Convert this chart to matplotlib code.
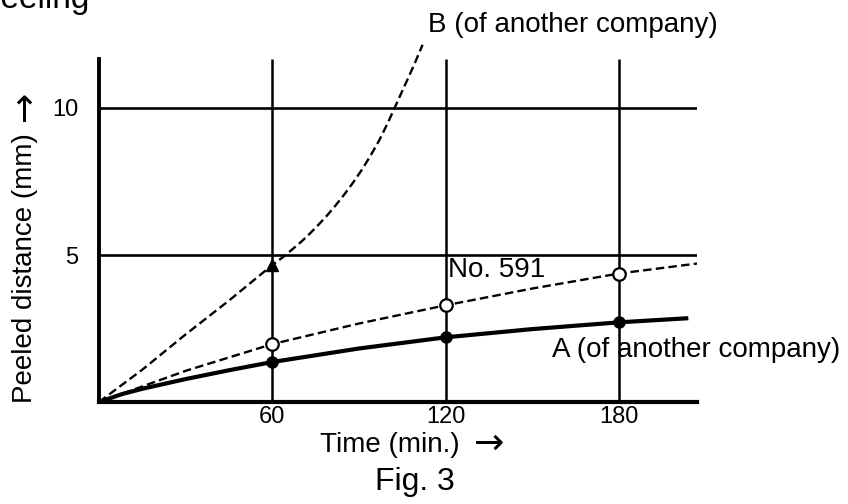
import matplotlib
matplotlib.use('Agg')
import matplotlib.pyplot as plt

plt.rcParams['font.family'] = ['Liberation Sans', 'DejaVu Sans']

# time (min.) and peeled distance (mm)
a_time = [0, 8, 15, 30, 45, 60, 90, 120, 150, 180, 204]
a_dist = [0, 0.27, 0.45, 0.78, 1.08, 1.36, 1.82, 2.2, 2.48, 2.71, 2.85]

no591_time = [0, 30, 60, 90, 120, 150, 180, 207]
no591_dist = [0, 1.06, 1.97, 2.67, 3.29, 3.86, 4.37, 4.71]

b_time = [0, 15, 30, 45, 60, 64, 67, 70, 73, 76, 79, 82, 85, 88, 91, 94, 97, 100, 103, 106, 109, 112]
b_dist = [0, 1.1, 2.3, 3.45, 4.66, 4.95, 5.2, 5.45, 5.73, 6.03, 6.35, 6.7, 7.07, 7.47, 7.9, 8.38, 8.9, 9.5, 10.15, 10.8, 11.45, 12.15]

# measured points (markers)
a_mark_t = [60, 120, 180]
a_mark_d = [1.36, 2.2, 2.71]
no591_mark_t = [60, 120, 180]
no591_mark_d = [1.97, 3.29, 4.37]
b_mark_t = [60]
b_mark_d = [4.66]

x_ticks = [60, 120, 180]
y_ticks = [5, 10]

W, H = 848, 504
fig = plt.figure(figsize=(W / 100, H / 100), dpi=100)
ax = fig.add_axes([99 / W, (H - 402) / H, 598 / W, 367.5 / H])
ax.set_xlim(0, 207)
ax.set_ylim(0, 12.5)

# grid: vertical lines up to the top of the y axis, horizontal lines full width
ax.vlines(x_ticks, 0, 11.65, colors='black', lw=1.8, zorder=1)
ax.hlines(y_ticks, 0, 207, colors='black', lw=1.9, zorder=1)

ax.plot(a_time, a_dist, color='black', lw=3.0, zorder=3, solid_capstyle='butt')
ax.plot(a_mark_t, a_mark_d, 'o', color='black', ms=8, zorder=4)

ax.plot(no591_time, no591_dist, color='black', lw=1.7, dashes=(3.6, 1.8), zorder=3)
ax.plot(no591_mark_t, no591_mark_d, 'o', mfc='white', mec='black', mew=1.6, ms=9, zorder=4)

ax.plot(b_time, b_dist, color='black', lw=1.7, dashes=(3.6, 1.8), zorder=3, clip_on=False)
ax.plot(b_mark_t, b_mark_d, '^', color='black', ms=9, zorder=4)

for side in ['top', 'right']:
    ax.spines[side].set_visible(False)
ax.spines['left'].set_bounds(0, 11.65)
ax.spines['left'].set_linewidth(2.8)
ax.spines['bottom'].set_linewidth(3.0)

ax.set_xticks(x_ticks)
ax.set_yticks(y_ticks)
ax.tick_params(length=0, labelsize=17)
ax.tick_params(axis='x', pad=3)
ax.tick_params(axis='y', pad=15)

fs = 20
arrow_font = ['DejaVu Sans']
fig.text(25 / W, 1 - 268 / H, 'Peeled distance (mm)', rotation=90,
         ha='center', va='center', fontsize=fs)
fig.text(25 / W, 1 - 106 / H, '\u2192', rotation=90, ha='center', va='center',
         fontsize=26, family=arrow_font)
fig.text(320 / W, 1 - 452 / H, 'Time (min.)', ha='left', va='baseline', fontsize=fs)
fig.text(489 / W, 1 - 444 / H, '\u2192', ha='center', va='center', fontsize=26, family=arrow_font)
fig.text(375 / W, 1 - 490 / H, 'Fig. 3', ha='left', va='baseline', fontsize=23)
fig.text(428 / W, 1 - 32 / H, 'B (of another company)', ha='left', va='baseline', fontsize=fs)
fig.text(448 / W, 1 - 277 / H, 'No. 591', ha='left', va='baseline', fontsize=fs)
fig.text(552 / W, 1 - 357 / H, 'A (of another company)', ha='left', va='baseline', fontsize=fs)
fig.text(90 / W, 1 - 8 / H, 'peeling', ha='right', va='baseline', fontsize=24)

fig.savefig('out.png', dpi=100)
